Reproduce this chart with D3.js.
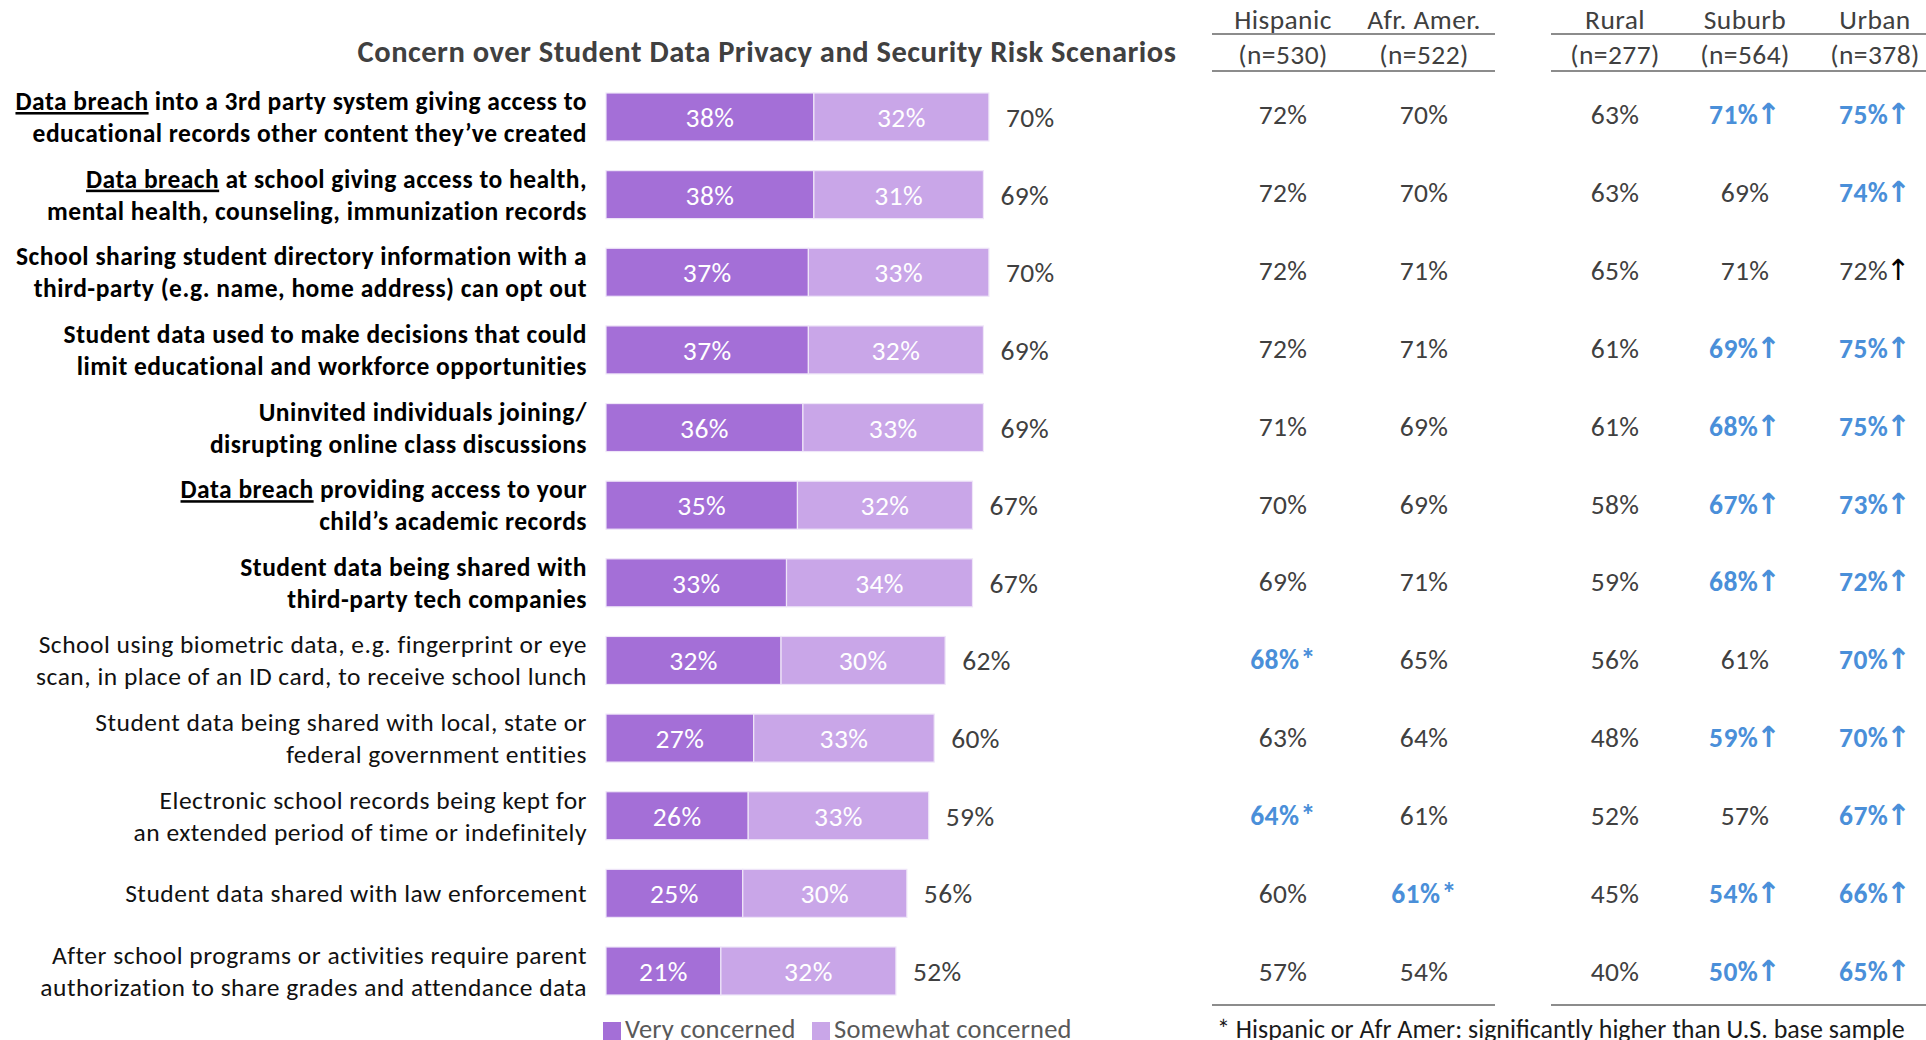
<!DOCTYPE html>
<html>
<head>
<meta charset="utf-8">
<script src="https://cdn.jsdelivr.net/npm/d3@7"></script>
<style>
  html, body { margin: 0; padding: 0; background: #fff; }
  svg { display: block; font-family: Carlito, Lato, sans-serif; }
</style>
</head>
<body>
<svg id="chart" width="1926" height="1040"></svg>
<script>
// Scenario labels: each line is [underlined prefix, rest]
const scenarios = [
  [["Data breach", " into a 3rd party system giving access to"], ["", "educational records other content they’ve created"]],
  [["Data breach", " at school giving access to health,"], ["", "mental health, counseling, immunization records"]],
  [["", "School sharing student directory information with a"], ["", "third-party (e.g. name, home address) can opt out"]],
  [["", "Student data used to make decisions that could"], ["", "limit educational and workforce opportunities"]],
  [["", "Uninvited individuals joining/"], ["", "disrupting online class discussions"]],
  [["Data breach", " providing access to your"], ["", "child’s academic records"]],
  [["", "Student data being shared with"], ["", "third-party tech companies"]],
  [["", "School using biometric data, e.g. fingerprint or eye"], ["", "scan, in place of an ID card, to receive school lunch"]],
  [["", "Student data being shared with local, state or"], ["", "federal government entities"]],
  [["", "Electronic school records being kept for"], ["", "an extended period of time or indefinitely"]],
  [["", "Student data shared with law enforcement"]],
  [["", "After school programs or activities require parent"], ["", "authorization to share grades and attendance data"]]
];
const boldRows = [true, true, true, true, true, true, true, false, false, false, false, false];

// Stacked bar values (%)
const veryConcerned     = [38, 38, 37, 37, 36, 35, 33, 32, 27, 26, 25, 21];
const somewhatConcerned = [32, 31, 33, 32, 33, 32, 34, 30, 33, 33, 30, 32];
const totalConcerned    = [70, 69, 70, 69, 69, 67, 67, 62, 60, 59, 56, 52];

// Subgroup columns (%)
const hispanic = [72, 72, 72, 72, 71, 70, 69, 68, 63, 64, 60, 57];
const afrAmer  = [70, 70, 71, 71, 69, 69, 71, 65, 64, 61, 61, 54];
const rural    = [63, 63, 65, 61, 61, 58, 59, 56, 48, 52, 45, 40];
const suburb   = [71, 69, 71, 69, 68, 67, 68, 61, 59, 57, 54, 50];
const urban    = [75, 74, 72, 75, 75, 73, 72, 70, 70, 67, 66, 65];

// Significance marks: "*" = higher than U.S. base, "up" = higher than rural, "upPlain" = arrow only
const hispanicSig = ["", "", "", "", "", "", "", "*", "", "*", "", ""];
const afrAmerSig  = ["", "", "", "", "", "", "", "", "", "", "*", ""];
const ruralSig    = ["", "", "", "", "", "", "", "", "", "", "", ""];
const suburbSig   = ["up", "", "", "up", "up", "up", "up", "", "up", "", "up", "up"];
const urbanSig    = ["up", "up", "upPlain", "up", "up", "up", "up", "up", "up", "up", "up", "up"];

const columnNames = ["Hispanic", "Afr. Amer.", "Rural", "Suburb", "Urban"];
const columnBases = ["(n=530)", "(n=522)", "(n=277)", "(n=564)", "(n=378)"];

const seriesNames = ["Very concerned", "Somewhat concerned"];
const title = "Concern over Student Data Privacy and Security Risk Scenarios";
const footnote = "* Hispanic or Afr Amer: significantly higher than U.S. base sample";

// ---- drawing ----
const svg = d3.select("#chart");
const colors = d3.scaleOrdinal().domain(seriesNames).range(["#a46fd7", "#c9a6e8"]);
const textDark = "#404040";
const sigBlue = "#4a8fd9";

const idx = d3.range(scenarios.length);
const y = d3.scalePoint().domain(idx).range([117, 971]);
const yTable = d3.scalePoint().domain(idx).range([114, 971]);
const x = d3.scaleLinear().domain([0, 100]).range([606, 1153]);
const barH = 48;

// Title
svg.append("text")
  .attr("x", 767).attr("y", 62)
  .attr("text-anchor", "middle")
  .attr("font-size", 30.5).attr("font-weight", "bold")
  .attr("letter-spacing", 0.5)
  .attr("fill", textDark)
  .text(title);

// Scenario labels
const labelX = 587;
idx.forEach(i => {
  const lines = scenarios[i];
  const offsets = lines.length === 2 ? [-16, 16] : [0];
  lines.forEach((ln, k) => {
    const t = svg.append("text")
      .attr("x", labelX).attr("y", y(i) + offsets[k] + 9)
      .attr("text-anchor", "end")
      .attr("font-size", 25.5)
      .attr("letter-spacing", 0.5)
      .attr("font-weight", boldRows[i] ? "bold" : "normal")
      .attr("fill", boldRows[i] ? "#000" : "#111");
    if (ln[0]) {
      t.append("tspan").attr("text-decoration", "underline").text(ln[0]);
    }
    t.append("tspan").text(ln[1]);
  });
});

// Stacked bars
const stackData = idx.map(i => ({ i, "Very concerned": veryConcerned[i], "Somewhat concerned": somewhatConcerned[i] }));
const stacked = d3.stack().keys(seriesNames)(stackData);

const layers = svg.append("g").selectAll("g")
  .data(stacked).join("g")
  .attr("fill", d => colors(d.key));

layers.selectAll("rect")
  .data(d => d).join("rect")
  .attr("x", d => x(d[0]))
  .attr("y", d => y(d.data.i) - barH / 2)
  .attr("width", d => x(d[1]) - x(d[0]))
  .attr("height", barH)
  .attr("stroke", "#efe6f8").attr("stroke-width", 1.2);

layers.selectAll("text")
  .data(d => d).join("text")
  .attr("x", d => (x(d[0]) + x(d[1])) / 2)
  .attr("y", d => y(d.data.i) + 10)
  .attr("text-anchor", "middle")
  .attr("font-size", 27.5)
  .attr("letter-spacing", 0.4)
  .attr("fill", "#fff")
  .text(d => (d[1] - d[0]) + "%");

// Totals
svg.append("g").selectAll("text")
  .data(idx).join("text")
  .attr("x", i => x(veryConcerned[i] + somewhatConcerned[i]) + 17)
  .attr("y", i => y(i) + 10)
  .attr("font-size", 27.5)
  .attr("letter-spacing", 0.4)
  .attr("fill", textDark)
  .text(i => totalConcerned[i] + "%");

// Subgroup table
const columns = [
  { vals: hispanic, sig: hispanicSig },
  { vals: afrAmer, sig: afrAmerSig },
  { vals: rural, sig: ruralSig },
  { vals: suburb, sig: suburbSig },
  { vals: urban, sig: urbanSig }
];
const colCenters = [1283, 1424, 1615, 1745, 1875];

columns.forEach((col, c) => {
  const cx = colCenters[c];
  svg.append("text")
    .attr("x", cx).attr("y", 29)
    .attr("text-anchor", "middle").attr("font-size", 27.5)
    .attr("letter-spacing", 0.4)
    .attr("fill", textDark).text(columnNames[c]);
  svg.append("text")
    .attr("x", cx).attr("y", 64)
    .attr("text-anchor", "middle").attr("font-size", 27.5)
    .attr("letter-spacing", 0.4)
    .attr("fill", textDark).text(columnBases[c]);

  idx.forEach(i => {
    const s = col.sig[i];
    const highlighted = s === "*" || s === "up";
    const t = svg.append("text")
      .attr("x", cx).attr("y", yTable(i) + 10)
      .attr("text-anchor", "middle")
      .attr("font-size", 27.5)
      .attr("letter-spacing", 0.4)
      .attr("font-weight", highlighted ? "bold" : "normal")
      .attr("fill", highlighted ? sigBlue : textDark);
    t.append("tspan").text(col.vals[i] + "%");
    if (s === "*") {
      t.append("tspan").attr("font-size", 30).attr("dx", 1).text("*");
    } else if (s === "up" || s === "upPlain") {
      t.append("tspan")
        .attr("font-family", "'DejaVu Sans', sans-serif")
        .attr("font-weight", s === "up" ? "bold" : "normal")
        .attr("font-size", 29)
        .attr("dx", -2)
        .attr("fill", s === "up" ? sigBlue : "#000")
        .text("↑");
    }
  });
});

// Group rules
const rules = [
  [1212, 1495, 34], [1212, 1495, 71], [1212, 1495, 1005],
  [1551, 1926, 34], [1551, 1926, 71], [1551, 1926, 1005]
];
svg.append("g").selectAll("line")
  .data(rules).join("line")
  .attr("x1", d => d[0]).attr("x2", d => d[1])
  .attr("y1", d => d[2]).attr("y2", d => d[2])
  .attr("stroke", "#8c8c8c").attr("stroke-width", 2);

// Legend
const legendX = [603, 812];
seriesNames.forEach((name, k) => {
  svg.append("rect")
    .attr("x", legendX[k]).attr("y", 1022)
    .attr("width", 18).attr("height", 18)
    .attr("fill", colors(name));
  svg.append("text")
    .attr("x", legendX[k] + 22).attr("y", 1038)
    .attr("font-size", 26.5)
    .attr("letter-spacing", 0.2)
    .attr("fill", "#595959")
    .text(name);
});

// Footnote
svg.append("text")
  .attr("x", 1217).attr("y", 1038)
  .attr("font-size", 26)
  .attr("fill", "#1a1a1a")
  .text(footnote);
</script>
</body>
</html>
